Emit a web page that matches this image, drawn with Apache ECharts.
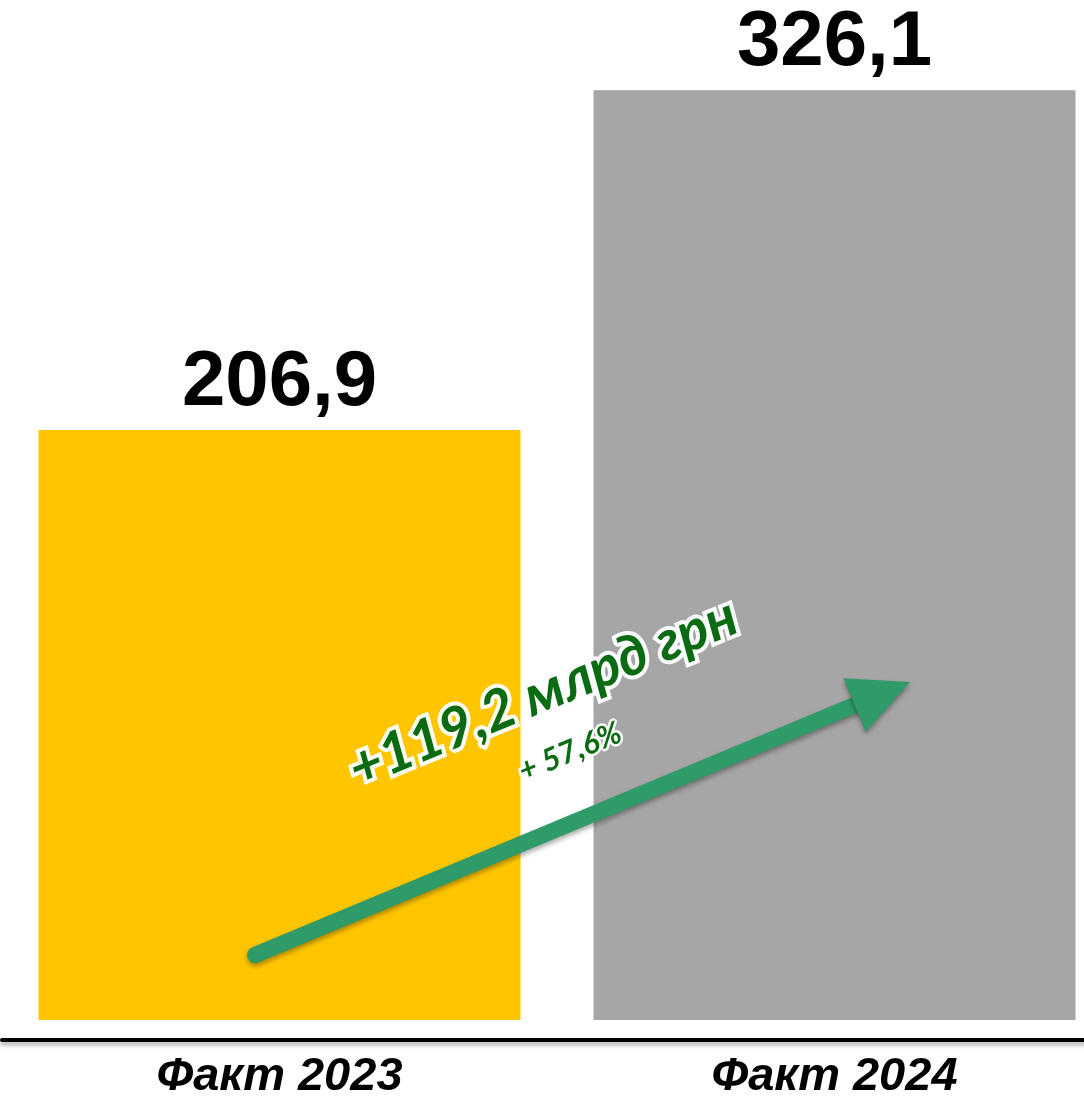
<!DOCTYPE html>
<html>
<head>
<meta charset="utf-8">
<script src="https://cdn.jsdelivr.net/npm/echarts@6/dist/echarts.min.js"></script>
<style>
  html, body { margin: 0; padding: 0; background: #fff; }
  #main { width: 1084px; height: 1099px; }
</style>
</head>
<body>
<div id="main"></div>
<script>
// дані
const categories = ["Факт 2023", "Факт 2024"];
const values = [206.9, 326.1];
const growthText = "+119,2 млрд грн";
const growthPct = "+ 57,6%";

const barColors = ["#FFC600", "#A6A6A6"];

const chartDom = document.getElementById("main");
const myChart = echarts.init(chartDom);

// стрілка приросту
const ax = 255, ay = 955, bx = 910, by = 682;
const len = Math.sqrt((bx - ax) ** 2 + (by - ay) ** 2);
const ang = Math.atan2(ay - by, bx - ax);

const option = {
  animation: false,
  grid: { left: 2, right: -28, top: 22, bottom: 79, outerBoundsMode: "none", containLabel: false },
  xAxis: [
    {
      type: "category",
      data: categories,
      axisLine: { show: false },
      axisTick: { show: false },
      axisLabel: { show: false }
    },
    {
      type: "category",
      data: categories,
      position: "bottom",
      offset: 20,
      axisLine: { show: true, lineStyle: { color: "#000", width: 4, shadowColor: "rgba(0,0,0,0.35)", shadowBlur: 4, shadowOffsetY: 3 } },
      axisTick: { show: false },
      axisLabel: {
        margin: 14,
        color: "#000",
        fontFamily: "'Liberation Sans Narrow', 'Arial Narrow', 'Liberation Sans', sans-serif",
        fontWeight: "bold",
        fontStyle: "italic",
        fontSize: 47
      }
    }
  ],
  yAxis: { type: "value", min: 0, max: 350, show: false },
  series: [
    {
      type: "bar",
      xAxisIndex: 0,
      barWidth: 482,
      data: values.map((v, i) => ({ value: v, itemStyle: { color: barColors[i] } })),
      label: {
        show: true,
        position: "top",
        distance: 8,
        color: "#000",
        fontFamily: "'Liberation Sans', Arial, sans-serif",
        fontWeight: "bold",
        fontSize: 78,
        formatter: (p) => p.value.toFixed(1).replace(".", ",")
      }
    }
  ],
  graphic: [
    {
      type: "group",
      x: ax,
      y: ay,
      z: 100,
      rotation: ang,
      children: [
        {
          type: "line",
          z: 100,
          shape: { x1: 0, y1: 0, x2: len - 55, y2: 0 },
          style: { stroke: "#2E9B69", lineWidth: 16, lineCap: "round", shadowColor: "rgba(0,0,0,0.35)", shadowBlur: 5, shadowOffsetY: 3 }
        },
        {
          type: "polygon",
          z: 100,
          shape: { points: [[len, 0], [len - 60, -29], [len - 60, 29]] },
          style: { fill: "#2E9B69", shadowColor: "rgba(0,0,0,0.35)", shadowBlur: 5, shadowOffsetY: 3 }
        }
      ]
    },
    {
      type: "text",
      x: 543,
      y: 693,
      z: 101,
      rotation: 0.39,
      style: {
        text: growthText,
        x: 0, y: 0,
        align: "center",
        verticalAlign: "middle",
        fill: "#0A6B12",
        stroke: "rgba(255,255,255,0.95)",
        lineWidth: 8,
        font: "italic bold 56px Lato, 'Noto Sans', sans-serif",
        shadowColor: "#fff",
        shadowBlur: 14
      }
    },
    {
      type: "text",
      x: 570,
      y: 752,
      z: 101,
      rotation: 0.39,
      style: {
        text: growthPct,
        x: 0, y: 0,
        align: "center",
        verticalAlign: "middle",
        fill: "#0A6B12",
        stroke: "rgba(255,255,255,0.95)",
        lineWidth: 5,
        font: "italic bold 31px Lato, 'Noto Sans', sans-serif",
        shadowColor: "#fff",
        shadowBlur: 8
      }
    }
  ]
};

option && myChart.setOption(option);
</script>
</body>
</html>
